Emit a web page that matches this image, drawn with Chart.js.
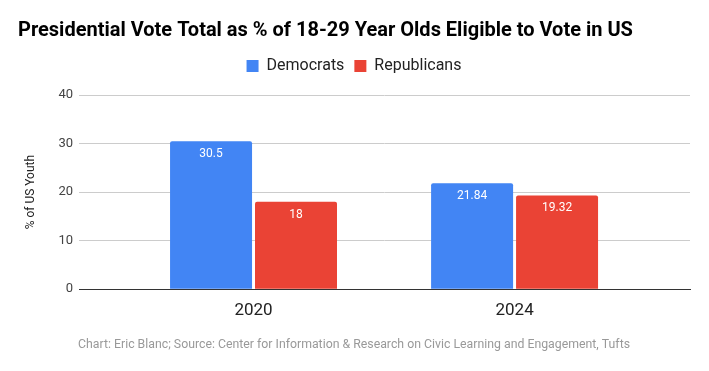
<!DOCTYPE html>
<html>
<head>
<meta charset="utf-8">
<script src="https://cdn.jsdelivr.net/npm/chart.js@4"></script>
<style>
  html, body { margin: 0; padding: 0; background: #fff; }
  #wrap { width: 709px; height: 371px; }
</style>
</head>
<body>
<div id="wrap"><canvas id="barChart"></canvas></div>
<script>
const years = ["2020", "2024"];
const democrats = [30.5, 21.84];
const republicans = [18, 19.32];
const yTicks = [0, 10, 20, 30, 40];

// draws the value inside the top of each bar
const barValues = {
  id: "barValues",
  afterDatasetsDraw(chart) {
    const ctx = chart.ctx;
    ctx.save();
    ctx.font = "12px Roboto";
    ctx.fillStyle = "#fff";
    ctx.textAlign = "center";
    ctx.textBaseline = "middle";
    chart.data.datasets.forEach((ds, i) => {
      chart.getDatasetMeta(i).data.forEach((bar, j) => {
        ctx.fillText(String(ds.data[j].y), bar.x, bar.y + 13);
      });
    });
    ctx.restore();
  },
};

// extra room below the legend
const legendGap = {
  id: "legendGap",
  beforeInit(chart) {
    const fit = chart.legend.fit;
    chart.legend.fit = function () {
      fit.call(this);
      this.height += 11;
    };
  },
};

const toPoints = (arr) => arr.map((v, i) => ({ x: i + 1, y: v }));

const ctx = document.getElementById("barChart").getContext("2d");
new Chart(ctx, {
  type: "bar",
  data: {
    datasets: [
      {
        label: "Democrats",
        data: toPoints(democrats),
        backgroundColor: "#4285f4",
        borderRadius: { topLeft: 2, topRight: 2 },
        borderSkipped: "bottom",
        categoryPercentage: 0.651,
        barPercentage: 0.965,
      },
      {
        label: "Republicans",
        data: toPoints(republicans),
        backgroundColor: "#ea4335",
        borderRadius: { topLeft: 2, topRight: 2 },
        borderSkipped: "bottom",
        categoryPercentage: 0.651,
        barPercentage: 0.965,
      },
    ],
  },
  options: {
    responsive: true,
    maintainAspectRatio: false,
    animation: false,
    layout: { padding: { left: 18, right: 19, top: 0, bottom: 8 } },
    plugins: {
      title: {
        display: true,
        text: "Presidential Vote Total as % of 18-29 Year Olds Eligible to Vote in US",
        align: "start",
        color: "#000",
        font: { family: "Roboto", size: 20, weight: "bold" },
        padding: { top: 19, bottom: 5 },
      },
      legend: {
        display: true,
        position: "top",
        labels: {
          boxWidth: 12,
          boxHeight: 12,
          color: "#222",
          font: { family: "Roboto", size: 16 },
          padding: 10,
        },
      },
      subtitle: {
        display: true,
        position: "bottom",
        text: "Chart: Eric Blanc; Source: Center for Information & Research on Civic Learning and Engagement, Tufts",
        color: "#999",
        font: { family: "Roboto", size: 12.3 },
        padding: { top: 0, bottom: 11 },
      },
      tooltip: { enabled: false },
    },
    scales: {
      x: {
        type: "linear",
        offset: false,
        min: 0.3314,
        max: 2.672,
        afterBuildTicks(scale) {
          scale.ticks = years.map((_, i) => ({ value: i + 1 }));
        },
        afterFit(scale) {
          scale.height = 48;
        },
        ticks: {
          callback: (v) => years[v - 1],
          color: "#222",
          font: { family: "Roboto", size: 17 },
          padding: 3,
          maxRotation: 0,
        },
        grid: { display: false },
        border: { display: true, color: "#333", width: 1 },
      },
      y: {
        min: 0,
        max: 40,
        afterBuildTicks(scale) {
          scale.ticks = yTicks.map((v) => ({ value: v }));
        },
        afterFit(scale) {
          scale.width = 61;
        },
        ticks: {
          color: "#444",
          font: { family: "Roboto", size: 13 },
          padding: 6,
        },
        grid: { color: "#ccc", drawTicks: false },
        border: { display: false },
        title: {
          display: true,
          text: "% of US Youth",
          color: "#222",
          font: { family: "Roboto", size: 12 },
          padding: { top: 6, bottom: 0 },
        },
      },
    },
  },
  plugins: [barValues, legendGap],
});
</script>
</body>
</html>
